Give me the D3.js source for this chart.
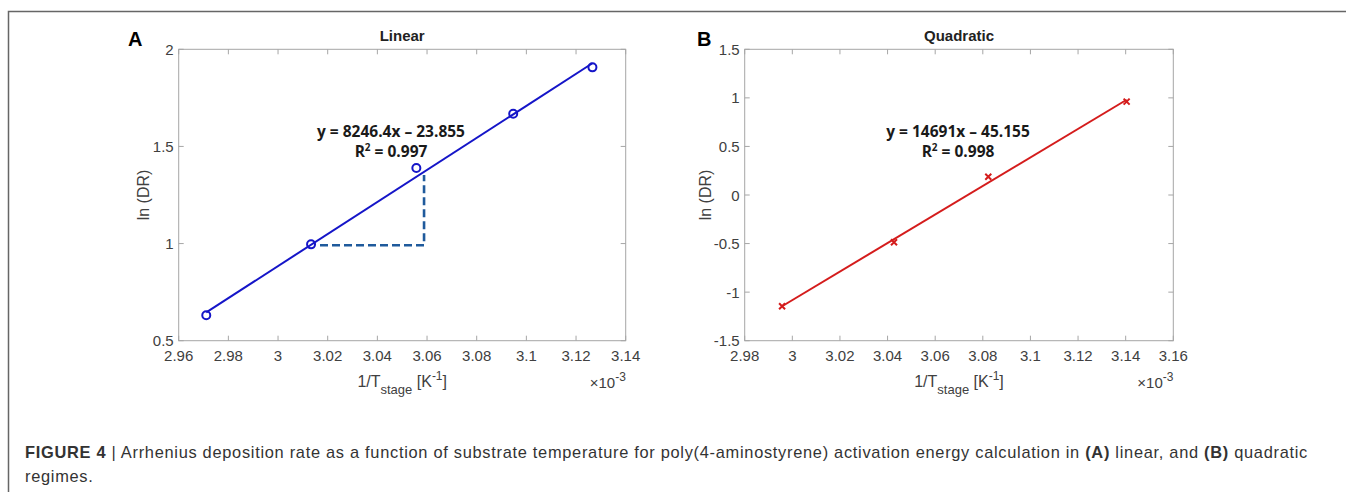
<!DOCTYPE html>
<html>
<head>
<meta charset="UTF-8">
<title>Figure 4</title>
<script src="https://cdn.jsdelivr.net/npm/d3@7"></script>
<style>
  body { margin: 0; background: #fff; }
  svg { display: block; font-family: "Liberation Sans", Arial, sans-serif; }
  .tick-label { font-size: 15px; fill: #404040; }
  .axis-label { font-size: 16px; fill: #404040; }
  .title { font-size: 15px; font-weight: bold; fill: #222; }
  .panel { font-size: 20px; font-weight: bold; fill: #000; }
  .eq { font-size: 15.5px; font-weight: bold; fill: #1a1a1a; font-family: "Open Sans", "Liberation Sans", sans-serif; }
  .caption { font-size: 16.4px; fill: #333; }
</style>
</head>
<body>
<svg id="fig" width="1346" height="492"></svg>
<script>
// panel A (linear)
const linX = [2.9711, 3.0133, 3.0557, 3.0947, 3.1266];
const linY = [0.631, 0.996, 1.389, 1.668, 1.907];
const linFit = [8.2464, -23.855];
const linXTicks = [2.96, 2.98, 3.00, 3.02, 3.04, 3.06, 3.08, 3.10, 3.12, 3.14];
const linYTicks = [0.5, 1, 1.5, 2];
const linSlope = [[3.0169, 0.991], [3.0588, 0.991], [3.0588, 1.353]];

// panel B (quadratic)
const quadX = [2.9957, 3.0427, 3.0823, 3.1404];
const quadY = [-1.146, -0.487, 0.188, 0.961];
const quadFit = [14.691, -45.155];
const quadXTicks = [2.98, 3.00, 3.02, 3.04, 3.06, 3.08, 3.10, 3.12, 3.14, 3.16];
const quadYTicks = [-1.5, -1, -0.5, 0, 0.5, 1, 1.5];

const svg = d3.select('#fig');

// figure frame
svg.append('path')
  .attr('d', 'M8.5,500 V11.5 H1350')
  .attr('fill', 'none').attr('stroke', '#666').attr('stroke-width', 1.5);

// matlab-ish tick labels, plain hyphen for minus
function fmt(v) {
  return String(+v.toFixed(2));
}

function panel(o) {
  const x = d3.scaleLinear().domain(o.xDomain).range([o.left, o.right]);
  const y = d3.scaleLinear().domain(o.yDomain).range([o.bottom, o.top]);
  const g = svg.append('g');
  const tk = 5;

  // box
  g.append('rect')
    .attr('x', o.left).attr('y', o.top)
    .attr('width', o.right - o.left).attr('height', o.bottom - o.top)
    .attr('fill', 'none').attr('stroke', '#a6a6a6').attr('stroke-width', 1);

  // ticks (inside, all four sides)
  o.xTicks.forEach(t => {
    g.append('line').attr('x1', x(t)).attr('x2', x(t)).attr('y1', o.bottom).attr('y2', o.bottom - tk)
      .attr('stroke', '#a6a6a6');
    g.append('line').attr('x1', x(t)).attr('x2', x(t)).attr('y1', o.top).attr('y2', o.top + tk)
      .attr('stroke', '#a6a6a6');
    g.append('text').attr('class', 'tick-label')
      .attr('x', x(t)).attr('y', o.bottom + 20)
      .attr('text-anchor', 'middle').text(fmt(t));
  });
  o.yTicks.forEach(t => {
    g.append('line').attr('x1', o.left).attr('x2', o.left + tk).attr('y1', y(t)).attr('y2', y(t))
      .attr('stroke', '#a6a6a6');
    g.append('line').attr('x1', o.right).attr('x2', o.right - tk).attr('y1', y(t)).attr('y2', y(t))
      .attr('stroke', '#a6a6a6');
    g.append('text').attr('class', 'tick-label')
      .attr('x', o.left - 5).attr('y', y(t) + 5.5)
      .attr('text-anchor', 'end').text(fmt(t));
  });

  const cx = (o.left + o.right) / 2;
  const cy = (o.top + o.bottom) / 2;

  // labels
  g.append('text').attr('class', 'panel').attr('x', o.letterX).attr('y', 46).text(o.letter);
  g.append('text').attr('class', 'title').attr('x', cx).attr('y', 41)
    .attr('text-anchor', 'middle').text(o.title);

  g.append('text').attr('class', 'axis-label')
    .attr('transform', `translate(${o.left - o.yLabelOff},${cy}) rotate(-90)`)
    .attr('text-anchor', 'middle').text('ln (DR)');

  const xl = g.append('text').attr('class', 'axis-label')
    .attr('x', cx).attr('y', o.bottom + 46).attr('text-anchor', 'middle');
  xl.append('tspan').text('1/T');
  xl.append('tspan').attr('dy', 7).attr('font-size', '13px').text('stage');
  xl.append('tspan').attr('dy', -7).text(' [K');
  xl.append('tspan').attr('dy', -7).attr('font-size', '12px').text('-1');
  xl.append('tspan').attr('dy', 7).text(']');

  const ex = g.append('text').attr('class', 'tick-label')
    .attr('x', o.right - 36).attr('y', o.bottom + 47);
  ex.append('tspan').text('\u00d710');
  ex.append('tspan').attr('dy', -7).attr('font-size', '12px').text('-3');

  // fit line
  const xs = d3.extent(o.xs);
  const line = d3.line().x(d => x(d[0])).y(d => y(d[1]));
  g.append('path')
    .datum(xs.map(v => [v, o.fit[0] * v + o.fit[1]]))
    .attr('d', line)
    .attr('fill', 'none').attr('stroke', o.color).attr('stroke-width', 2);

  if (o.slope) {
    g.append('path').datum(o.slope).attr('d', line)
      .attr('fill', 'none').attr('stroke', '#1f5a9c').attr('stroke-width', 2.6)
      .attr('stroke-dasharray', '8,4');
  }

  // markers
  const pts = o.xs.map((v, i) => [v, o.ys[i]]);
  if (o.marker === 'o') {
    g.selectAll('circle.pt').data(pts).enter().append('circle')
      .attr('class', 'pt')
      .attr('cx', d => x(d[0])).attr('cy', d => y(d[1])).attr('r', 4)
      .attr('fill', 'none').attr('stroke', o.color).attr('stroke-width', 2);
  } else {
    const s = 3;
    g.selectAll('path.pt').data(pts).enter().append('path')
      .attr('class', 'pt')
      .attr('d', d => {
        const px = x(d[0]), py = y(d[1]);
        return `M${px - s},${py - s}L${px + s},${py + s}M${px - s},${py + s}L${px + s},${py - s}`;
      })
      .attr('stroke', o.color).attr('stroke-width', 2);
  }

  // equation
  const eq = g.append('text').attr('class', 'eq').attr('text-anchor', 'middle');
  eq.append('tspan').attr('x', o.eqX).attr('y', o.eqY).text(o.eq);
  const r2 = eq.append('tspan').attr('x', o.eqX).attr('y', o.eqY + 20);
  r2.append('tspan').text('R');
  r2.append('tspan').attr('dy', -6).attr('font-size', '10px').text('2');
  r2.append('tspan').attr('dy', 6).text(' = ' + o.r2);
}

panel({
  left: 178.7, right: 625.7, top: 49.3, bottom: 340.7,
  xDomain: [2.96, 3.14], yDomain: [0.5, 2],
  xTicks: linXTicks, yTicks: linYTicks,
  xs: linX, ys: linY, fit: linFit, slope: linSlope,
  color: '#1515c8', marker: 'o',
  letter: 'A', letterX: 128, title: 'Linear', yLabelOff: 30,
  eq: 'y = 8246.4x \u2013 23.855', r2: '0.997', eqX: 391, eqY: 137
});

panel({
  left: 744.7, right: 1173.3, top: 49.3, bottom: 340.7,
  xDomain: [2.98, 3.16], yDomain: [-1.5, 1.5],
  xTicks: quadXTicks, yTicks: quadYTicks,
  xs: quadX, ys: quadY, fit: quadFit, slope: null,
  color: '#d41c1c', marker: 'x',
  letter: 'B', letterX: 697, title: 'Quadratic', yLabelOff: 34,
  eq: 'y = 14691x \u2013 45.155', r2: '0.998', eqX: 958, eqY: 137
});

// caption: first line stretched to the column width with a little tracking
const cap = svg.append('text').attr('class', 'caption').attr('x', 25).attr('y', 457.5);
cap.append('tspan').attr('font-weight', 'bold').text('FIGURE 4 ');
cap.append('tspan').text('| Arrhenius deposition rate as a function of substrate temperature for poly(4-aminostyrene) activation energy calculation in ');
cap.append('tspan').attr('font-weight', 'bold').text('(A)');
cap.append('tspan').text(' linear, and ');
cap.append('tspan').attr('font-weight', 'bold').text('(B)');
cap.append('tspan').text(' quadratic');
const natural = cap.node().getComputedTextLength();
const nChars = cap.text().length;
const track = Math.max(0, ((1308 - 25) - natural) / nChars);
cap.attr('letter-spacing', track);
svg.append('text').attr('class', 'caption').attr('x', 25).attr('y', 482)
  .attr('letter-spacing', track).text('regimes.');
</script>
</body>
</html>
